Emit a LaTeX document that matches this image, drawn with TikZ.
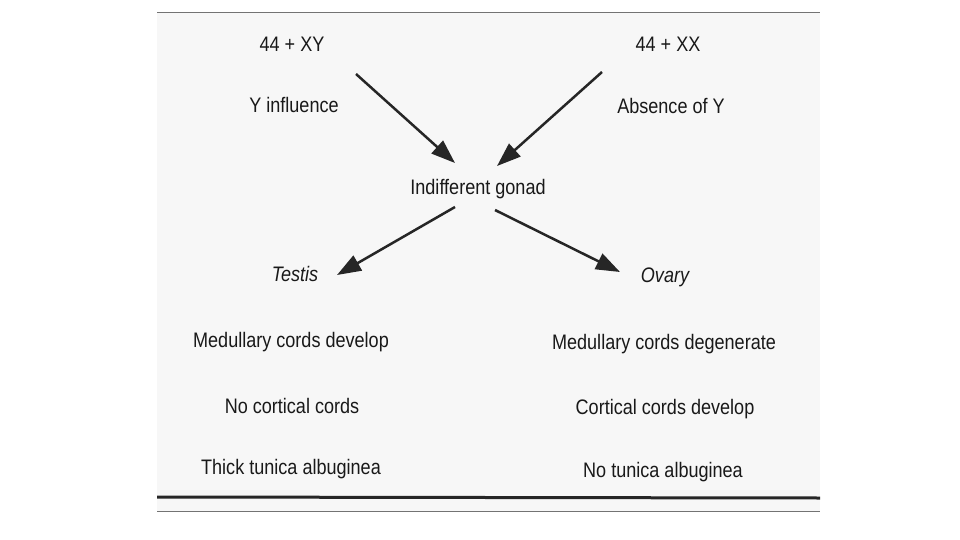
\documentclass[tikz,border=0pt]{standalone}
\usepackage{fontspec}
\setmainfont[FakeStretch=0.86]{Liberation Sans}
\usetikzlibrary{arrows.meta}
\begin{document}
\begin{tikzpicture}[x=1pt,y=-1pt,
  lbl/.style={font=\fontsize{21}{24}\selectfont, text=black!90, inner sep=2pt},
  ilbl/.style={lbl, font=\fontsize{21}{24}\selectfont\itshape},
  arr/.style={line width=2.5pt, draw=black!85, -{Triangle[length=24pt,width=17pt]}},
  rule/.style={draw=black!55}]
\useasboundingbox (0,0) rectangle (960,540);
\fill[white] (0,0) rectangle (960,540);
\fill[black!3] (157,13) rectangle (820,511);
\draw[rule, line width=1pt] (157,13) -- (820,13);
\draw[black!85, line width=3pt] (157,497) -- (820,498);
\draw[rule, line width=1pt] (157,511) -- (820,511);

\node[lbl] (xy) at (292,44) {44 + XY};
\node[lbl] (yinf) at (294,105) {Y influence};
\node[lbl] (xx) at (668,44) {44 + XX};
\node[lbl] (absy) at (671,106) {Absence of Y};
\node[lbl] (gonad) at (478,189) {Indifferent gonad};
\node[ilbl] (testis) at (295,274) {Testis};
\node[ilbl] (ovary) at (665,277) {Ovary};
\node[lbl] (t1) at (291,342) {Medullary cords develop};
\node[lbl] (t2) at (292,406) {No cortical cords};
\node[lbl] (t3) at (291,469) {Thick tunica albuginea};
\node[lbl] (o1) at (664,344) {Medullary cords degenerate};
\node[lbl] (o2) at (665,409) {Cortical cords develop};
\node[lbl] (o3) at (663,472) {No tunica albuginea};

\coordinate (s1) at (356,74);
\coordinate (s2) at (602,72);
\draw[arr] (s1) -- ([shift={(-23,-26)}]gonad.center);
\draw[arr] (s2) -- ([shift={(19,-23)}]gonad.center);
\draw[arr] ([shift={(-23,18)}]gonad.center) -- ([shift={(42,1)}]testis.center);
\draw[arr] ([shift={(17,21)}]gonad.center) -- ([shift={(-45,-5)}]ovary.center);
\end{tikzpicture}
\end{document}
